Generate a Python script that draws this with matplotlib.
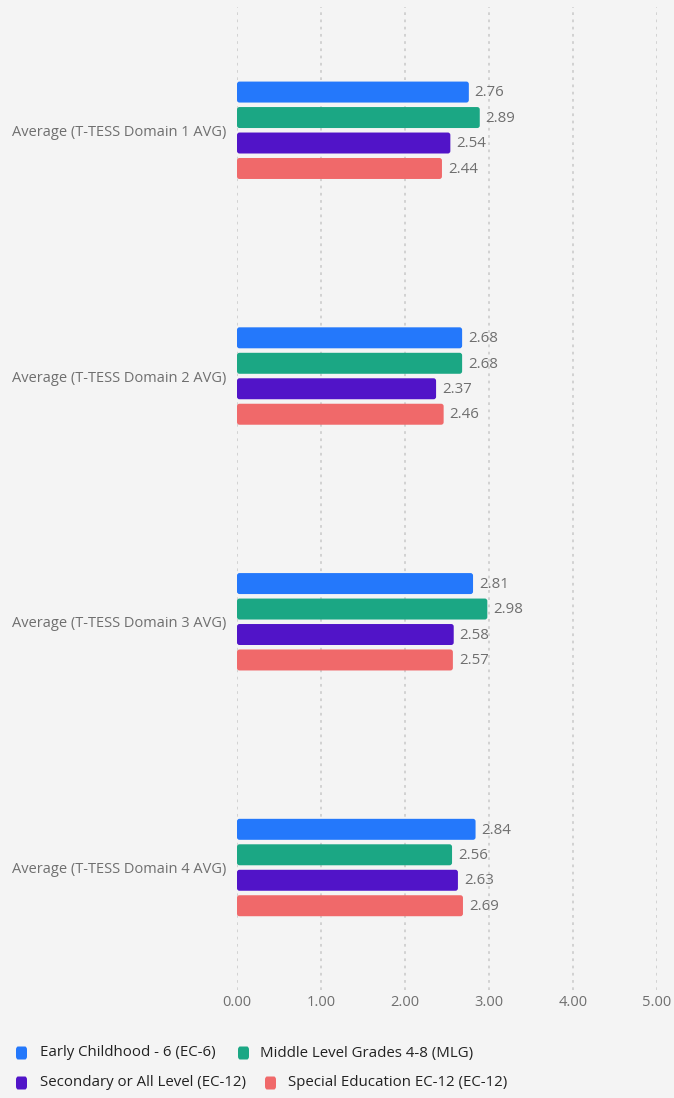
import matplotlib
matplotlib.use("Agg")
import matplotlib.pyplot as plt
from matplotlib.patches import FancyBboxPatch
import numpy as np

categories = ["Average (T-TESS Domain 1 AVG)", "Average (T-TESS Domain 2 AVG)",
              "Average (T-TESS Domain 3 AVG)", "Average (T-TESS Domain 4 AVG)"]
series_names = ["Early Childhood - 6 (EC-6)", "Middle Level Grades 4-8 (MLG)",
                "Secondary or All Level (EC-12)", "Special Education EC-12 (EC-12)"]
ec6 = [2.76, 2.68, 2.81, 2.84]
mlg = [2.89, 2.68, 2.98, 2.56]
sec = [2.54, 2.37, 2.58, 2.63]
sped = [2.44, 2.46, 2.57, 2.69]
xticks = [0, 1, 2, 3, 4, 5]

series = [ec6, mlg, sec, sped]
colors = ["#2478fb", "#1ba784", "#5114c8", "#f0696a"]
bg = "#f4f4f4"
gray = "#6f6f6f"

plt.rcParams['font.family'] = ['Open Sans', 'DejaVu Sans']

W, H = 674, 1098
fig = plt.figure(figsize=(W / 100, H / 100), dpi=100, facecolor=bg)
ax = fig.add_axes([237 / W, (H - 990.4) / H, (657 - 237) / W, (990.4 - 7.4) / H])
ax.set_facecolor(bg)

pitch = 25.5 / 246
bh = 21 / 246
ypos = np.arange(len(categories))
for j, (vals, c) in enumerate(zip(series, colors)):
    off = (j - 1.5) * pitch
    ys = ypos + off
    bars = ax.barh(ys, vals, height=bh, color=c, alpha=0)
    for b, v, y in zip(bars, vals, ys):
        p = FancyBboxPatch((b.get_x(), b.get_y()), b.get_width(), b.get_height(),
                           boxstyle="round,pad=0,rounding_size=0.03",
                           mutation_aspect=84 / 246,
                           facecolor=c, edgecolor="none")
        ax.add_patch(p)
        ax.text(v + 0.07, y + 0.003, f"{v:.2f}", va="center", ha="left", fontsize=10.8, color=gray)

ax.set_xlim(0, 5)
ax.set_ylim(len(categories) - 0.5, -0.5)
ax.set_xticks(xticks)
ax.set_xticklabels([f"{t:.2f}" for t in xticks], fontsize=10.5, color=gray)
ax.set_yticks(ypos)
ax.set_yticklabels(categories, fontsize=10.5, color=gray)
ax.tick_params(axis='both', length=0)
ax.tick_params(axis='y', pad=8)
ax.tick_params(axis='x', pad=3)
for s in ax.spines.values():
    s.set_visible(False)
ax.grid(axis='x', color="#cfcfcf", linestyle=(0, (1.5, 2.5)), linewidth=1.3)
ax.set_axisbelow(True)

# legend (flow layout)
leg_items = [(21, 1053, 40), (243, 1053, 260), (21, 1083, 40), (270, 1083, 288)]
for (sx, sy, tx), name, c in zip(leg_items, series_names, colors):
    sq = FancyBboxPatch(((sx - 5) / W, 1 - (sy + 6.5) / H), 11 / W, 13 / H,
                        boxstyle="round,pad=0,rounding_size=0.003",
                        transform=fig.transFigure, facecolor=c, edgecolor="none")
    fig.patches.append(sq)
    fig.text(tx / W, 1 - sy / H, name, fontsize=10.8, color="#222222", va="center", ha="left")

fig.savefig("out.png", dpi=100, facecolor=bg)
